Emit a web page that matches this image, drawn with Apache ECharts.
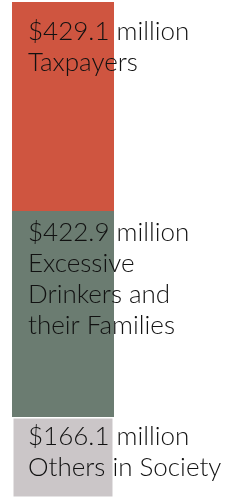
<!DOCTYPE html>
<html><head><meta charset="utf-8">
<script src="https://cdn.jsdelivr.net/npm/echarts@6/dist/echarts.min.js"></script>
<style>html,body{margin:0;padding:0;background:#fff}#c{width:252px;height:504px}</style>
</head><body><div id="c"></div>
<script>
const categories = ['Cost'];
const seriesNames = ['Taxpayers', 'Excessive\nDrinkers and\ntheir Families', 'Others in Society'];
const values = [429.1, 422.9, 166.1];
const colors = ['#CF5540', '#6B7C71', '#CBC6C8'];
const labelTop = [14, 6, 4];
const total = values.reduce((a, b) => a + b, 0);

const chart = echarts.init(document.getElementById('c'));
chart.setOption({
  animation: false,
  grid: { left: 12, right: 138, top: 2, bottom: 6 },
  xAxis: { type: 'category', data: categories, show: false },
  yAxis: { type: 'value', min: 0, max: total, inverse: true, show: false },
  series: values.map((v, i) => ({
    name: seriesNames[i],
    type: 'bar',
    stack: 'all',
    barWidth: '100%',
    data: [v],
    itemStyle: { color: colors[i], borderColor: i === 2 ? '#fff' : colors[i], borderWidth: i === 2 ? 1.5 : 0 },
    label: {
      show: true,
      position: [16, labelTop[i]],
      formatter: () => '$' + v.toFixed(1) + ' million\n' + seriesNames[i],
      color: '#111',
      fontFamily: 'Lato',
      fontWeight: 300,
      fontSize: 26,
      lineHeight: 31
    }
  }))
});
</script></body></html>
